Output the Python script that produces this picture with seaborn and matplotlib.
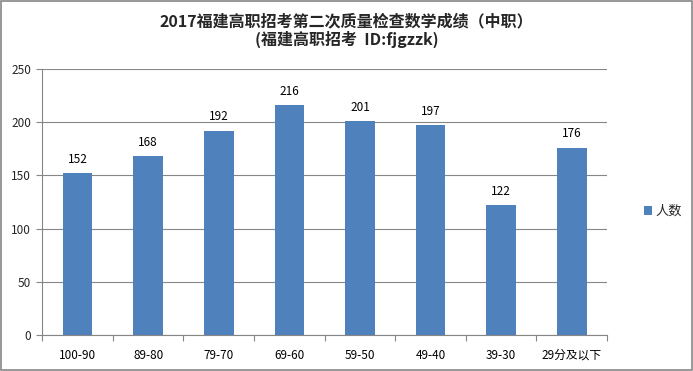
import matplotlib
matplotlib.use("Agg")
import matplotlib.pyplot as plt
import seaborn as sns
import numpy as np
import pandas as pd
from matplotlib.patches import Rectangle

# dados
faixas = ['100-90', '89-80', '79-70', '69-60', '59-50', '49-40', '39-30', '29分及以下']
pessoas = [152, 168, 192, 216, 201, 197, 122, 176]
titulo = '2017福建高职招考第二次质量检查数学成绩（中职）\n(福建高职招考  ID:fjgzzk)'
serie = '人数'

sns.set_theme(style='white')
plt.rcParams['font.family'] = ['Noto Sans CJK SC', 'DejaVu Sans']

df = pd.DataFrame({'faixa': faixas, 'n': pessoas})
cor = '#4F81BD'
cinza = '#868686'

fig = plt.figure(figsize=(6.93, 3.71), dpi=100)
ax = fig.add_axes([0.061, 0.097, 0.815, 0.717])
sns.barplot(x='faixa', y='n', data=df, color=cor, width=0.42, saturation=1,
            linewidth=0, ax=ax)

for i, v in enumerate(pessoas):
    ax.text(i, v + 7, str(v), ha='center', va='bottom', fontsize=8.5, color='black')

ax.set_ylim(0, 250)
ax.set_xlim(-0.5, len(faixas) - 0.5)
ax.set_yticks(range(0, 251, 50))
ax.yaxis.grid(True, color=cinza, linewidth=0.8)
ax.set_axisbelow(True)
ax.set_xlabel('')
ax.set_ylabel('')
for s in ['top', 'right']:
    ax.spines[s].set_visible(False)
for s in ['left', 'bottom']:
    ax.spines[s].set_color(cinza)
    ax.spines[s].set_linewidth(0.8)

ax.tick_params(axis='x', which='major', length=0, labelsize=8.5, pad=10, colors='black')
ax.set_xticks(np.arange(-0.5, len(faixas), 1), minor=True)
ax.tick_params(axis='x', which='minor', length=4, color=cinza, width=0.8, direction='out', bottom=True)
ax.tick_params(axis='y', length=4, color=cinza, width=0.8, direction='out', labelsize=8.5, pad=4, left=True)

fig.text(0.5, 0.965, titulo, ha='center', va='top', fontsize=11.5, fontweight='bold', linespacing=1.15)

leg_h = Rectangle((0, 0), 1, 1, facecolor=cor, edgecolor='none')
fig.legend([leg_h], [serie], loc='center left', bbox_to_anchor=(0.912, 0.43),
           frameon=False, fontsize=9.5, handlelength=0.6, handleheight=0.6, handletextpad=0.25)

fig.patches.append(Rectangle((0.002, 0.004), 0.996, 0.992, transform=fig.transFigure,
                             fill=False, edgecolor=cinza, linewidth=1.2))

fig.savefig('out.png', dpi=100)
